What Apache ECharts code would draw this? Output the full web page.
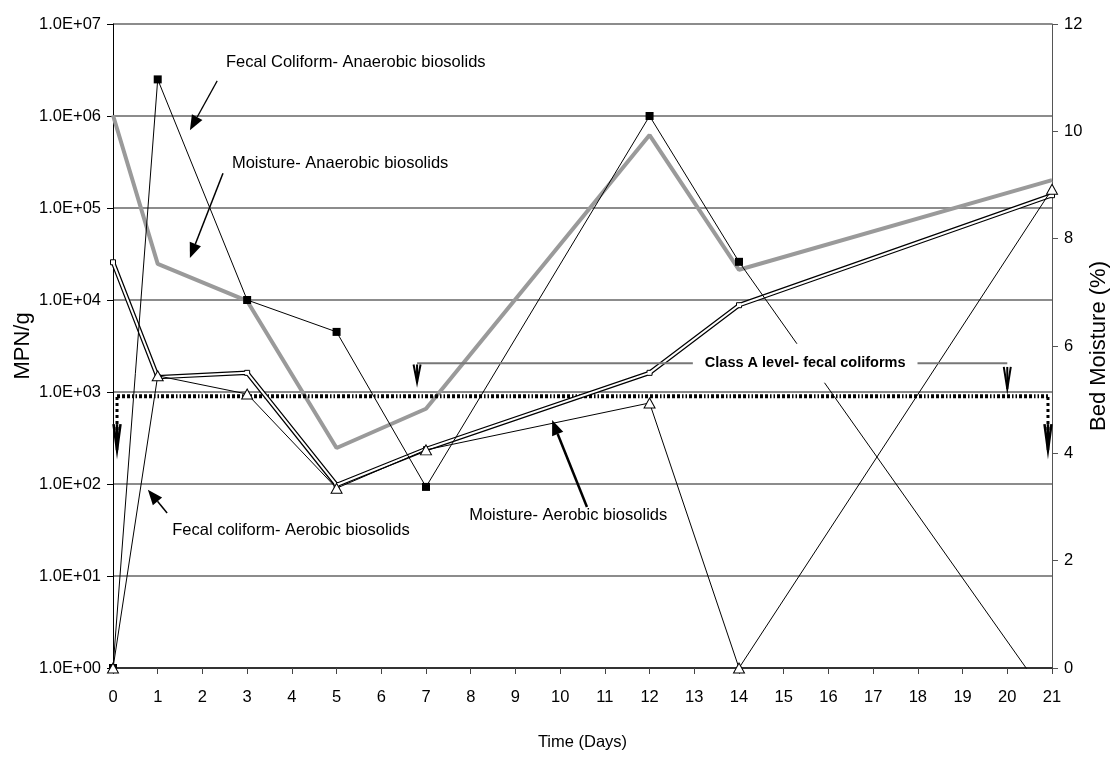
<!DOCTYPE html>
<html>
<head>
<meta charset="utf-8">
<script src="https://cdn.jsdelivr.net/npm/echarts@6/dist/echarts.min.js"></script>
<style>
  html, body { margin: 0; padding: 0; background: #fff; }
  #chart { width: 1110px; height: 758px; }
</style>
</head>
<body>
<div id="chart"></div>
<script>
// Sampling days
const days = [0, 1, 3, 5, 7, 12, 14, 21];

// Fecal coliform counts, MPN/g (log axis)
const fecalAnaerobic = [1, 2.5e6, 1.0e4, 4.5e3, 93, 1.0e6, 2.6e4, 0.4];
const fecalAerobic = [1, 1500, 950, 90, 235, 760, 1, 1.6e5];

// Bed moisture, % (right axis)
const moistureAnaerobic = [10.3, 7.53, 6.84, 4.1, 4.83, 9.93, 7.42, 9.09];
const moistureAerobic = [7.56, 5.42, 5.5, 3.41, 4.08, 5.5, 6.76, 8.81];

// Class A limit for fecal coliforms (dotted reference line)
const classADays = [0.09, 20.91];
const classALevel = 900;

// Axis tick labels
const dayTicks = ['0','1','2','3','4','5','6','7','8','9','10','11','12','13','14','15','16','17','18','19','20','21'];
const mpnTicks = ['1.0E+00','1.0E+01','1.0E+02','1.0E+03','1.0E+04','1.0E+05','1.0E+06','1.0E+07'];

const FONT = 'Liberation Sans, Arial, sans-serif';

const pairs = (xs, ys) => xs.map((x, i) => [x, ys[i]]);

const chart = echarts.init(document.getElementById('chart'), null, { renderer: 'canvas' });

chart.setOption({
  animation: false,
  backgroundColor: '#fff',
  grid: { left: 113, right: 58, top: 24, bottom: 90, containLabel: false, outerBoundsMode: 'none' },
  xAxis: {
    type: 'value', min: 0, max: 21, interval: 1,
    name: 'Time (Days)', nameLocation: 'middle', nameGap: 66,
    nameTextStyle: { fontFamily: FONT, fontSize: 16.5, color: '#000' },
    axisLine: { lineStyle: { color: '#333', width: 2 } },
    axisTick: { show: true, length: 6, lineStyle: { color: '#444' } },
    axisLabel: {
      fontFamily: FONT, fontSize: 16.5, color: '#000', margin: 21,
      formatter: v => dayTicks[Math.round(v)]
    },
    splitLine: { show: false }
  },
  yAxis: [
    {
      type: 'log', logBase: 10, min: 1, max: 1e7,
      name: 'MPN/g', nameLocation: 'middle', nameGap: 79, nameRotate: 90, nameMoveOverlap: false,
      nameTextStyle: { fontFamily: FONT, fontSize: 22, color: '#000' },
      axisLine: { show: true, lineStyle: { color: '#000', width: 1 } },
      axisTick: { show: true, length: 6, lineStyle: { color: '#000' } },
      axisLabel: {
        fontFamily: FONT, fontSize: 16.5, color: '#000', margin: 12,
        formatter: v => mpnTicks[Math.round(Math.log10(v))]
      },
      splitLine: { show: true, lineStyle: { color: '#666', width: 1.6 } }
    },
    {
      type: 'value', min: 0, max: 12, interval: 2, position: 'right',
      name: 'Bed Moisture (%)', nameLocation: 'middle', nameGap: 36, nameRotate: 90, nameMoveOverlap: false,
      nameTextStyle: { fontFamily: FONT, fontSize: 22, color: '#000' },
      axisLine: { show: true, lineStyle: { color: '#555', width: 1 } },
      axisTick: { show: true, length: 6, lineStyle: { color: '#555' } },
      axisLabel: { fontFamily: FONT, fontSize: 16.5, color: '#000', margin: 12 },
      splitLine: { show: false }
    }
  ],
  series: [
    {
      name: 'Moisture- Anaerobic biosolids', type: 'line', yAxisIndex: 1,
      data: pairs(days, moistureAnaerobic),
      symbol: 'none', clip: true, z: 2,
      lineStyle: { color: '#9a9a9a', width: 4 }
    },
    {
      name: 'Class A level', type: 'line', yAxisIndex: 0,
      data: pairs(classADays, [classALevel, classALevel]),
      symbol: 'none', z: 3,
      lineStyle: { color: '#000', width: 4, type: [3, 2, 3, 2, 3, 2, 1.5, 2, 1.5, 2] }
    },
    {
      name: 'Moisture- Aerobic biosolids', type: 'line', yAxisIndex: 1,
      data: pairs(days, moistureAerobic),
      symbol: 'rect', symbolSize: 5, clip: true, z: 4,
      itemStyle: { color: '#fff', borderColor: '#000', borderWidth: 1 },
      lineStyle: { color: '#000', width: 4.5 }
    },
    {
      name: 'Moisture- Aerobic inner', type: 'line', yAxisIndex: 1,
      data: pairs(days, moistureAerobic),
      symbol: 'none', clip: true, z: 5,
      lineStyle: { color: '#fff', width: 2 }
    },
    {
      name: 'Fecal Coliform- Anaerobic biosolids', type: 'line', yAxisIndex: 0,
      data: pairs(days, fecalAnaerobic),
      symbol: 'rect', symbolSize: 8, clip: true, z: 6,
      itemStyle: { color: '#000' },
      lineStyle: { color: '#000', width: 1 }
    },
    {
      name: 'Fecal coliform- Aerobic biosolids', type: 'line', yAxisIndex: 0,
      data: pairs(days, fecalAerobic),
      symbol: 'triangle', symbolSize: [11, 10], clip: true, z: 7,
      itemStyle: { color: '#fff', borderColor: '#000', borderWidth: 1 },
      lineStyle: { color: '#000', width: 1 }
    }
  ]
});

// Annotations, positioned in (day, moisture %) coordinates
const toPx = (d, m) => chart.convertToPixel({ xAxisIndex: 0, yAxisIndex: 1 }, [d, m]);

const labels = [
  { text: 'Fecal Coliform- Anaerobic biosolids', at: [5.43, 11.29] },
  { text: 'Moisture- Anaerobic biosolids', at: [5.08, 9.41] },
  { text: 'Fecal coliform- Aerobic biosolids', at: [3.98, 2.57] },
  { text: 'Moisture- Aerobic biosolids', at: [10.18, 2.85] }
];

const pointers = [
  { from: [2.33, 10.94], to: [1.72, 10.02], width: 1.2 },
  { from: [2.46, 9.22], to: [1.72, 7.64], width: 1.5 },
  { from: [1.21, 2.89], to: [0.78, 3.32], width: 1.5 },
  { from: [10.60, 3.0], to: [9.82, 4.62], width: 2.5 }
];

const graphics = [];

labels.forEach(l => {
  const p = toPx(l.at[0], l.at[1]);
  graphics.push({
    type: 'text', x: p[0], y: p[1], z: 50,
    style: { text: l.text, fontFamily: FONT, fontSize: 16.5, fill: '#000', align: 'center', verticalAlign: 'middle' }
  });
});

function filledArrow(a, b, w) {
  const p0 = toPx(a[0], a[1]);
  const p1 = toPx(b[0], b[1]);
  const dx = p1[0] - p0[0], dy = p1[1] - p0[1];
  const len = Math.hypot(dx, dy);
  const ux = dx / len, uy = dy / len;
  const hl = 15, hw = 6;
  const bx = p1[0] - ux * hl, by = p1[1] - uy * hl;
  graphics.push({
    type: 'line', z: 50,
    shape: { x1: p0[0], y1: p0[1], x2: bx, y2: by },
    style: { stroke: '#000', lineWidth: w }
  });
  graphics.push({
    type: 'polygon', z: 50,
    shape: { points: [[p1[0], p1[1]], [bx - uy * hw, by + ux * hw], [bx + uy * hw, by - ux * hw]] },
    style: { fill: '#000' }
  });
}
pointers.forEach(p => filledArrow(p.from, p.to, p.width));

// Open chevron pointing down at a pixel tip
function chevron(tip, h, w, lw) {
  graphics.push({
    type: 'polyline', z: 51,
    shape: { points: [[tip[0] - w, tip[1] - h], tip, [tip[0] + w, tip[1] - h]] },
    style: { stroke: '#000', lineWidth: lw, fill: null }
  });
  graphics.push({
    type: 'line', z: 51,
    shape: { x1: tip[0], y1: tip[1] - h, x2: tip[0], y2: tip[1] },
    style: { stroke: '#000', lineWidth: lw }
  });
}

// Class A label with its bracket line
const bracketY = 5.68;
const bl = toPx(6.8, bracketY), br = toPx(20.0, bracketY);
graphics.push({
  type: 'line', z: 40,
  shape: { x1: bl[0], y1: bl[1], x2: br[0], y2: br[1] },
  style: { stroke: '#777', lineWidth: 2 }
});
chevron(toPx(6.8, bracketY - 0.36), 18, 3.5, 2);
chevron(toPx(20.0, bracketY - 0.48), 22, 3.5, 2);
const ct = toPx(15.48, bracketY);
graphics.push({
  type: 'text', x: ct[0], y: ct[1], z: 45,
  style: {
    text: 'Class A level- fecal coliforms', fontFamily: FONT, fontSize: 14.5, fontWeight: 'bold',
    fill: '#000', align: 'center', verticalAlign: 'middle',
    backgroundColor: '#fff', padding: [12, 12]
  }
});

// Dotted drops at the ends of the Class A line
[[0.09, 5.05, 4.06], [20.91, 5.05, 4.06]].forEach(d => {
  const top = toPx(d[0], d[1]), bot = toPx(d[0], d[2]);
  graphics.push({
    type: 'line', z: 51,
    shape: { x1: top[0], y1: top[1], x2: bot[0], y2: bot[1] - 20 },
    style: { stroke: '#000', lineWidth: 3, lineDash: [3, 3] }
  });
  chevron(bot, 26, 3.5, 2.5);
});

chart.setOption({ graphic: graphics });
</script>
</body>
</html>
